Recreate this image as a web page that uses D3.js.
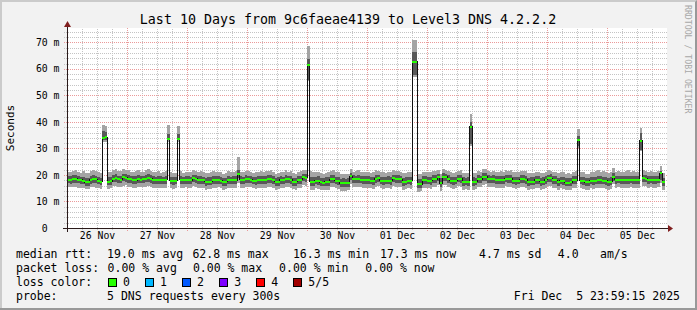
<!DOCTYPE html>
<html>
<head>
<meta charset="utf-8">
<script src="https://cdn.jsdelivr.net/npm/d3@7"></script>
<style>
  body { margin: 0; background: #f2f2f2; }
  svg { display: block; font-family: "DejaVu Sans Mono", monospace; }
  .grid .domain, .lbl .domain { display: none; }
  .grid line { shape-rendering: crispEdges; stroke-dasharray: 1,1; }
  .grid-minor line { stroke: #c4c4c4; }
  .grid-major line { stroke: #eb9a9a; }
  .lbl text { font-family: "DejaVu Sans Mono", monospace; font-size: 9.8px; fill: #000; white-space: pre; }
  .legend text { font-size: 11.5px; fill: #000; white-space: pre; }
</style>
</head>
<body>
<svg id="chart" width="697" height="310"></svg>
<script>
//======
// Data
//======

// hourly smokeping values (ms), 5 pings: min, 2nd, median, 4th, max
var median = [
  18.2,18.2,18.3,18.5,18.2,18.1,17.8,17.2,17.4,18.1,18.3,18.3,
  17.8,17.5,34.0,34.2,17.5,17.6,18.6,18.7,18.3,18.2,19.1,19.0,
  18.3,18.3,18.1,18.0,18.3,18.2,18.3,18.6,18.7,18.6,18.1,18.0,
  18.1,18.1,18.0,18.1,33.5,17.8,17.7,17.8,33.5,18.1,18.0,18.1,
  18.1,18.0,18.7,18.6,18.1,18.1,18.0,17.4,17.4,17.5,18.1,18.0,
  18.1,17.8,17.3,17.4,18.1,18.0,18.1,18.0,20.5,18.1,18.0,18.3,
  18.3,18.2,17.8,17.8,18.1,18.0,18.1,18.1,18.3,18.3,18.2,17.4,
  17.4,18.1,18.0,18.3,18.3,18.2,17.4,17.4,18.0,18.1,19.1,19.0,
  61.6,17.4,17.4,17.8,17.8,17.2,17.1,17.4,17.4,18.3,18.4,17.8,
  17.8,16.8,16.9,16.8,17.0,19.5,18.3,18.3,18.3,18.2,18.1,18.0,
  18.1,17.8,17.8,18.6,18.7,17.8,17.8,17.8,17.9,17.8,18.7,18.6,
  18.3,18.3,17.4,17.4,17.8,17.8,62.4,62.6,16.4,16.5,18.1,18.0,
  17.8,17.8,18.3,18.3,19.1,16.8,19.3,19.3,18.3,17.8,17.8,17.8,
  18.6,18.6,17.4,17.4,17.4,38.1,17.4,17.4,18.3,18.3,19.3,19.3,
  18.3,18.3,18.3,18.1,18.0,18.1,18.1,18.6,18.6,18.5,17.8,17.8,
  17.9,18.3,18.3,18.2,17.4,17.4,17.5,18.1,18.0,17.4,17.4,18.1,
  18.7,18.7,18.1,18.0,17.4,17.8,17.8,17.1,17.1,17.2,18.1,18.0,
  33.1,17.8,17.8,17.2,17.2,17.8,17.8,17.8,18.1,18.0,17.8,17.8,
  17.4,17.4,19.3,18.1,18.1,18.1,18.1,18.0,18.1,18.1,18.1,18.0,
  18.1,32.9,18.7,18.6,18.1,18.1,18.0,18.1,18.1,20.7,17.4,null
];

var smokeHigh = [
  19.5,19.6,19.8,19.9,19.6,19.4,19.3,18.9,19.0,19.6,19.8,19.7,
  19.3,19.0,36.5,36.3,19.2,19.3,20.0,20.2,19.7,19.6,20.4,20.3,
  19.8,19.7,19.5,19.6,19.9,19.7,19.6,20.1,20.3,20.0,19.5,19.4,
  19.6,19.5,19.4,19.7,35.6,19.3,19.1,19.2,35.5,19.5,19.4,19.6,
  19.5,19.4,20.1,20.0,19.6,19.5,19.4,19.0,19.1,19.2,19.6,19.5,
  19.7,19.3,18.9,19.0,19.6,19.4,19.5,19.6,21.8,19.5,19.4,19.8,
  19.7,19.6,19.3,19.4,19.6,19.5,19.5,19.7,19.8,19.9,19.6,19.0,
  19.1,19.6,19.4,19.9,19.7,19.6,19.0,18.9,19.5,19.6,20.3,20.2,
  63.9,19.2,19.3,19.4,19.5,19.0,18.8,19.1,19.2,19.8,19.9,19.3,
  19.4,18.6,18.7,18.5,18.7,20.8,19.8,19.7,19.9,19.7,19.5,19.6,
  19.5,19.3,19.4,20.0,20.1,19.4,19.3,19.4,19.5,19.3,20.1,20.0,
  19.8,19.7,19.0,19.1,19.3,19.4,66.4,66.4,18.3,18.4,19.6,19.5,
  19.3,19.4,19.8,19.9,20.5,18.8,20.6,20.5,19.8,19.3,19.3,19.4,
  20.0,20.1,19.1,19.0,19.1,40.0,19.1,19.0,19.8,19.7,20.6,20.7,
  19.8,19.7,19.8,19.6,19.5,19.7,19.6,20.1,20.0,20.0,19.4,19.3,
  19.4,19.8,19.9,19.7,19.0,19.1,19.1,19.6,19.5,19.0,19.1,19.6,
  20.1,20.2,19.6,19.5,19.0,19.4,19.3,18.8,18.9,18.9,19.6,19.5,
  34.5,19.3,19.4,18.9,18.8,19.3,19.4,19.3,19.6,19.5,19.4,19.3,
  19.0,19.1,20.6,19.6,19.7,19.6,19.5,19.6,19.7,19.6,19.6,19.5,
  19.7,35.7,20.1,20.0,19.6,19.7,19.5,19.6,19.7,21.5,18.9,null
];

var smokeLow = [
  16.8,16.7,16.9,17.0,16.8,16.6,16.4,15.9,16.0,16.7,16.9,16.8,
  16.4,16.1,33.0,33.2,16.1,16.2,17.2,17.3,16.9,16.8,17.6,17.5,
  16.9,16.8,16.7,16.5,16.9,16.8,16.9,17.2,17.2,17.1,16.7,16.6,
  16.7,16.6,16.5,16.7,33.0,16.4,16.3,16.4,33.0,16.7,16.6,16.7,
  16.6,16.5,17.2,17.1,16.7,16.6,16.5,16.0,16.1,16.2,16.7,16.5,
  16.7,16.4,15.9,16.0,16.7,16.6,16.6,16.5,19.0,16.7,16.5,16.9,
  16.9,16.8,16.4,16.3,16.7,16.6,16.6,16.7,16.9,16.8,16.7,16.0,
  16.0,16.7,16.5,16.9,16.8,16.7,16.0,15.9,16.6,16.7,17.6,17.5,
  55.7,16.0,15.9,16.4,16.3,15.8,15.7,16.0,15.9,16.9,17.0,16.4,
  16.3,15.5,15.6,15.4,15.6,18.0,16.9,16.8,16.9,16.8,16.6,16.5,
  16.7,16.4,16.3,17.1,17.3,16.4,16.3,16.4,16.5,16.3,17.2,17.1,
  16.9,16.8,16.0,16.1,16.4,16.3,57.6,57.6,15.1,15.2,16.7,16.6,
  16.4,16.3,16.9,16.8,17.6,15.5,17.8,17.7,16.9,16.4,16.3,16.4,
  17.2,17.1,16.0,16.1,16.0,31.5,16.0,16.1,16.9,16.8,17.8,17.9,
  16.9,16.8,16.9,16.7,16.6,16.7,16.6,17.2,17.1,17.0,16.4,16.3,
  16.5,16.9,16.8,16.7,16.0,16.1,16.1,16.7,16.6,16.0,16.1,16.7,
  17.3,17.2,16.7,16.6,16.0,16.4,16.3,15.8,15.7,15.9,16.7,16.6,
  31.0,16.4,16.3,15.9,15.8,16.4,16.3,16.4,16.7,16.6,16.4,16.3,
  16.0,16.1,17.9,16.7,16.8,16.7,16.6,16.6,16.7,16.8,16.7,16.6,
  16.7,29.4,17.3,17.2,16.7,16.8,16.6,16.7,16.8,18.0,15.8,null
];

var smokeMax = [
  21.3,21.0,21.6,21.8,21.2,20.9,21.4,20.6,20.8,21.5,22.0,21.4,
  21.0,20.7,38.8,38.6,21.0,21.2,21.9,22.3,21.4,21.5,22.1,21.8,
  21.7,21.3,21.0,21.6,21.9,21.2,21.1,21.7,22.4,21.6,21.0,21.2,
  21.4,20.9,21.0,21.5,38.8,21.0,20.7,20.8,38.4,21.4,20.9,21.3,
  21.2,21.0,21.9,21.6,21.1,21.4,21.0,20.6,20.9,21.0,21.5,21.1,
  21.3,21.0,20.5,20.7,21.4,21.0,21.2,21.5,26.8,21.2,21.0,21.5,
  21.6,21.2,20.9,21.3,21.0,21.4,21.1,21.6,21.4,21.8,21.1,20.5,
  20.7,21.3,21.0,21.8,21.3,21.6,20.6,20.5,21.2,21.4,22.0,21.8,
  68.5,21.5,21.0,21.3,21.0,20.6,20.4,20.9,21.2,21.6,21.8,21.0,
  21.0,20.4,20.3,20.2,20.5,22.3,21.3,21.6,22.0,21.2,21.0,21.3,
  21.1,20.9,21.2,21.9,21.6,21.0,21.3,20.9,21.2,21.0,21.8,21.5,
  21.5,21.2,20.6,20.8,21.1,21.0,70.8,70.8,20.3,20.2,21.3,21.0,
  21.0,21.3,21.6,21.4,22.0,20.5,22.3,22.0,21.4,21.0,20.9,21.2,
  21.6,21.8,20.8,20.6,20.9,42.8,20.7,20.8,21.5,21.3,22.2,22.4,
  21.4,21.3,21.5,21.1,21.0,21.4,21.2,21.8,21.6,21.7,21.0,21.1,
  21.0,21.6,21.4,21.5,20.6,20.8,20.7,21.2,21.1,20.6,20.9,21.3,
  21.8,21.6,21.3,21.0,20.7,21.2,21.0,20.4,20.6,20.5,21.3,21.4,
  37.3,21.0,21.2,20.5,20.4,21.3,21.0,21.5,21.8,21.2,21.6,21.1,
  20.7,21.0,22.5,21.3,21.6,21.2,21.0,21.4,21.8,21.2,21.4,21.0,
  21.3,37.7,21.8,21.6,21.2,21.4,21.1,21.3,21.5,23.3,20.6,null
];

var smokeMin = [
  15.4,15.3,15.6,15.5,15.2,15.0,14.9,14.6,14.7,15.3,15.6,15.2,
  15.0,14.8,32.5,32.6,14.8,15.0,15.7,15.9,15.4,15.3,16.0,16.1,
  15.5,15.3,15.1,15.0,15.4,15.3,15.5,15.6,15.8,15.5,15.2,15.0,
  15.2,15.1,15.0,15.2,32.5,14.9,14.8,14.9,32.5,15.2,15.0,15.3,
  15.1,15.0,15.8,15.6,15.2,15.1,15.0,14.5,14.7,14.8,15.2,15.0,
  15.3,14.9,14.4,14.6,15.2,15.1,15.0,15.1,17.0,15.2,15.0,15.4,
  15.5,15.3,14.9,14.8,15.2,15.1,15.0,15.2,15.4,15.3,15.2,14.5,
  14.6,15.2,15.0,15.5,15.3,15.2,14.6,14.4,15.1,15.2,16.1,16.0,
  55.3,14.5,14.4,14.9,14.8,14.3,14.2,14.5,14.4,15.4,15.5,14.9,
  14.8,14.0,14.1,13.9,14.2,16.5,15.4,15.3,15.5,15.3,15.1,15.0,
  15.2,14.9,14.8,15.6,15.8,14.9,14.8,14.9,15.0,14.8,15.7,15.6,
  15.4,15.3,14.5,14.6,14.9,14.8,57.0,57.0,13.7,13.8,15.2,15.1,
  14.9,14.8,15.4,15.3,16.1,14.0,16.3,16.2,15.4,14.9,14.8,14.9,
  15.7,15.6,14.5,14.6,14.5,31.0,14.5,14.6,15.4,15.3,16.3,16.4,
  15.4,15.3,15.4,15.2,15.1,15.2,15.1,15.7,15.6,15.5,14.9,14.8,
  15.0,15.4,15.3,15.2,14.5,14.6,14.6,15.2,15.1,14.5,14.6,15.2,
  15.8,15.7,15.2,15.1,14.5,14.9,14.8,14.3,14.2,14.4,15.2,15.1,
  30.0,14.9,14.8,14.4,14.3,14.9,14.8,14.9,15.2,15.1,14.9,14.8,
  14.5,14.6,16.4,15.2,15.3,15.2,15.1,15.1,15.2,15.3,15.2,15.1,
  15.2,29.0,15.8,15.7,15.2,15.3,15.1,15.2,15.3,17.0,14.3,null
];

var yTicks = [0, 10, 20, 30, 40, 50, 60, 70];
var title = "Last 10 Days from 9c6faeae4139 to Level3 DNS 4.2.2.2";
var rttStats = ["19.0 ms avg", "62.8 ms max", "16.3 ms min", "17.3 ms now", "4.7 ms sd", "4.0", "am/s"];
var lossStats = ["0.00 % avg", "0.00 % max", "0.00 % min", "0.00 % now"];
var lossLabels = ["0", "1", "2", "3", "4", "5/5"];
var lossColors = ["#26ff00", "#00b8ff", "#0059ff", "#7e00ff", "#ff0000", "#a10000"];
var probeText = "5 DNS requests every 300s";
var stampText = "Fri Dec  5 23:59:15 2025";

//=======
// Chart
//=======

var W = 697, H = 310;
var plotL = 67, plotR = 667, plotT = 28, plotB = 228;

var start = new Date(Date.UTC(2025, 10, 25, 23, 59, 15));
var end = new Date(Date.UTC(2025, 11, 5, 23, 59, 15));

var x = d3.scaleUtc().domain([start, end]).range([plotL, plotR]);
var y = d3.scaleLinear().domain([0, 75.4]).range([plotB, plotT]);

var svg = d3.select("#chart");

// frame
svg.append("rect").attr("width", W).attr("height", H).attr("fill", "#f2f2f2");
svg.append("path").attr("d", "M0,0H697V2H2V310H0Z").attr("fill", "#cbcbcb");
svg.append("path").attr("d", "M697,0V310H0V308H695V2Z").attr("fill", "#999999");
svg.append("rect")
  .attr("x", plotL).attr("y", plotT)
  .attr("width", plotR - plotL).attr("height", plotB - plotT)
  .attr("fill", "#fff");

// grid
var minorY = d3.range(0, 75, 2).filter(function(v) { return v % 10 !== 0; });
svg.append("g").attr("class", "grid grid-minor")
  .attr("transform", "translate(" + (plotL - 3) + ",0)")
  .call(d3.axisLeft(y).tickValues(minorY).tickSize(-(plotR - plotL + 3)).tickFormat(""));

var minorX = d3.utcHour.every(6).range(start, end).filter(function(d) { return d.getUTCHours() !== 0; });
svg.append("g").attr("class", "grid grid-minor")
  .attr("transform", "translate(0," + (plotB + 2) + ")")
  .call(d3.axisBottom(x).tickValues(minorX).tickSize(-(plotB - plotT + 2)).tickFormat(""));

svg.append("g").attr("class", "grid grid-major")
  .attr("transform", "translate(" + (plotL - 3) + ",0)")
  .call(d3.axisLeft(y).tickValues(yTicks).tickSize(-(plotR - plotL + 3)).tickFormat(""));

var days = d3.utcDay.range(start, end);
svg.append("g").attr("class", "grid grid-major")
  .attr("transform", "translate(0," + (plotB + 3) + ")")
  .call(d3.axisBottom(x).tickValues(days).tickSize(-(plotB - plotT + 3)).tickFormat(""));

// smoke
function hourTime(j) { return d3.utcHour.offset(start, j); }

var rows = median.map(function(m, j) {
  return { j: j, min: smokeMin[j], low: smokeLow[j], med: m, high: smokeHigh[j], max: smokeMax[j] };
}).filter(function(d) { return d.med != null; });

var steps = rows.flatMap(function(d) {
  return [Object.assign({ t: hourTime(d.j) }, d), Object.assign({ t: hourTime(d.j + 1) }, d)];
});

var plot = svg.append("g").attr("shape-rendering", "crispEdges");

plot.append("path").datum(steps)
  .attr("fill", "#a4a4a4")
  .attr("d", d3.area().x(function(d) { return x(d.t); })
    .y0(function(d) { return y(d.min); }).y1(function(d) { return y(d.max); }));

plot.append("path").datum(steps)
  .attr("fill", "#585858")
  .attr("d", d3.area().x(function(d) { return x(d.t); })
    .y0(function(d) { return y(d.low); }).y1(function(d) { return y(d.high); }));

plot.append("path").datum(steps)
  .attr("fill", "none").attr("stroke", "#101010").attr("stroke-width", 1)
  .attr("d", d3.line().x(function(d) { return x(d.t); }).y(function(d) { return y(d.med); }));

plot.append("path").datum(steps)
  .attr("fill", lossColors[0])
  .attr("d", d3.area().x(function(d) { return x(d.t); })
    .y0(function(d) { return y(d.med) + 1; }).y1(function(d) { return y(d.med) - 1; }));

// axes
svg.append("line")
  .attr("x1", plotL - 4).attr("x2", plotR + 2).attr("y1", plotB + 0.5).attr("y2", plotB + 0.5)
  .attr("stroke", "#2a1a1a").attr("shape-rendering", "crispEdges");
svg.append("line")
  .attr("x1", plotL + 0.5).attr("x2", plotL + 0.5).attr("y1", plotB + 4).attr("y2", plotT - 2)
  .attr("stroke", "#2a1a1a").attr("shape-rendering", "crispEdges");
svg.append("path").attr("d", "M668,225L673,228.5L668,232Z").attr("fill", "#801f1f");
svg.append("path").attr("d", "M64,27L67.5,21L71,27Z").attr("fill", "#801f1f");

// labels
var yFmt = function(v) { return v === 0 ? "0\u00a0\u00a0" : v + " m"; };
svg.append("g").attr("class", "lbl")
  .attr("transform", "translate(59.5,0)")
  .call(d3.axisLeft(y).tickValues(yTicks).tickSize(0).tickPadding(0).tickFormat(yFmt));

var noons = days.map(function(d) { return d3.utcHour.offset(d, 12); });
svg.append("g").attr("class", "lbl")
  .attr("transform", "translate(0," + (plotB + 4) + ")")
  .call(d3.axisBottom(x).tickValues(noons).tickSize(0).tickPadding(0).tickFormat(d3.utcFormat("%d %b")));

svg.append("text")
  .attr("x", 348).attr("y", 24)
  .attr("text-anchor", "middle")
  .attr("font-size", "13.3px")
  .text(title);

svg.append("text")
  .attr("transform", "translate(14,128) rotate(-90)")
  .attr("text-anchor", "middle")
  .attr("font-size", "11px")
  .text("Seconds");

svg.append("text")
  .attr("transform", "translate(685,5) rotate(90)")
  .attr("font-size", "8.2px")
  .attr("fill", "#a8a8a8")
  .text("RRDTOOL / TOBI OETIKER");

// legend
var legend = svg.append("g").attr("class", "legend");
var rowY = [258, 272, 286, 300];

legend.append("text").attr("x", 16).attr("y", rowY[0]).text("median rtt:");
var rttX = [107.1, 192.4, 292.9, 380, 479.1, 557.8, 600];
rttStats.forEach(function(s, i) {
  legend.append("text").attr("x", rttX[i]).attr("y", rowY[0]).text(s);
});

legend.append("text").attr("x", 16).attr("y", rowY[1]).text("packet loss:");
var lossX = [107.6, 192.9, 279.1, 365.3];
lossStats.forEach(function(s, i) {
  legend.append("text").attr("x", lossX[i]).attr("y", rowY[1]).text(s);
});

legend.append("text").attr("x", 16).attr("y", rowY[2]).text("loss color:");
lossLabels.forEach(function(s, i) {
  var bx = 108 + i * 37.06;
  legend.append("rect")
    .attr("x", Math.round(bx) + 0.5).attr("y", 278.5)
    .attr("width", 8).attr("height", 8)
    .attr("fill", lossColors[i]).attr("stroke", "#000")
    .attr("shape-rendering", "crispEdges");
  legend.append("text").attr("x", bx + 15).attr("y", rowY[2]).text(s);
});

legend.append("text").attr("x", 16).attr("y", rowY[3]).text("probe:");
legend.append("text").attr("x", 107.1).attr("y", rowY[3]).text(probeText);
legend.append("text").attr("x", 680).attr("y", rowY[3]).attr("text-anchor", "end").text(stampText);
</script>
</body>
</html>
